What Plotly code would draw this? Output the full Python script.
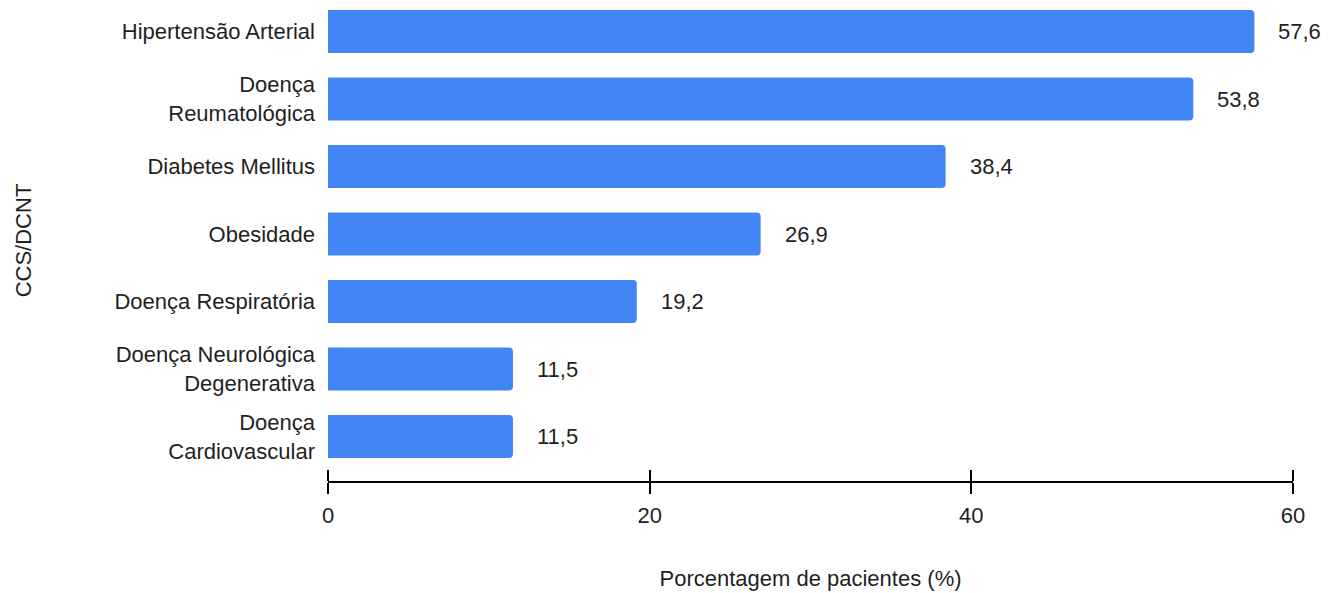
import plotly.graph_objects as go

# Chronic conditions (bottom to top) and share of patients (%)
categories = [
    "Doença<br>Cardiovascular",
    "Doença Neurológica<br>Degenerativa",
    "Doença Respiratória",
    "Obesidade",
    "Diabetes Mellitus",
    "Doença<br>Reumatológica",
    "Hipertensão Arterial",
]
values = [11.5, 11.5, 19.2, 26.9, 38.4, 53.8, 57.6]
x_ticks = [0, 20, 40, 60]

FONT = "Liberation Sans, Arial, sans-serif"
TEXT = "#1f1f1f"
BLUE = "#4285F4"
FS = 22

positions = list(range(len(categories)))

fig = go.Figure()
fig.add_trace(go.Bar(
    x=values,
    y=positions,
    orientation="h",
    marker=dict(color=BLUE, line=dict(width=0)),
    hoverinfo="skip",
))
# Invisible trace on the companion axis so its upward ticks are drawn
fig.add_trace(go.Scatter(x=[0], y=[0], xaxis="x2", mode="markers",
                         marker=dict(opacity=0), hoverinfo="skip", showlegend=False))

# Value labels to the right of each bar
for p, v in zip(positions, values):
    fig.add_annotation(
        x=v, y=p, xref="x", yref="y",
        text=f"{v:.1f}".replace(".", ","),
        showarrow=False, xanchor="left", xshift=22,
        font=dict(family=FONT, size=FS, color=TEXT),
    )

fig.update_layout(
    width=1341, height=593,
    margin=dict(l=328, r=48, t=0, b=112),
    plot_bgcolor="white", paper_bgcolor="white",
    barmode="overlay",
    bargap=0.36,
    barcornerradius=4,
    showlegend=False,
    separators=",.",
    font=dict(family=FONT, size=FS, color=TEXT),
    xaxis=dict(
        range=[0, 60], tickvals=x_ticks, ticktext=[str(t) for t in x_ticks],
        showgrid=False, zeroline=False,
        showline=True, linecolor="#000000", linewidth=2,
        ticks="outside", ticklen=11, tickwidth=2, tickcolor="#000000",
        ticklabelstandoff=3,
        title=dict(text="Porcentagem de pacientes (%)", standoff=43,
                   font=dict(family=FONT, size=FS, color=TEXT)),
        automargin=False,
    ),
    # Same scale drawn at the bottom edge with ticks pointing up, so each
    # tick crosses the axis line
    xaxis2=dict(
        range=[0, 60], tickvals=x_ticks, overlaying="x",
        anchor="free", position=0, side="top",
        showgrid=False, zeroline=False, showline=False,
        ticks="outside", ticklen=11, tickwidth=2, tickcolor="#000000",
        showticklabels=False, automargin=False,
    ),
    yaxis=dict(
        range=[-0.659, 6.467],
        tickvals=positions, ticktext=categories,
        showgrid=False, zeroline=False, showline=False,
        ticks="", ticklabelstandoff=12,
        title=dict(text="CCS/DCNT", standoff=76,
                   font=dict(family=FONT, size=FS, color=TEXT)),
        automargin=False,
    ),
)

fig.write_html("out.html")
